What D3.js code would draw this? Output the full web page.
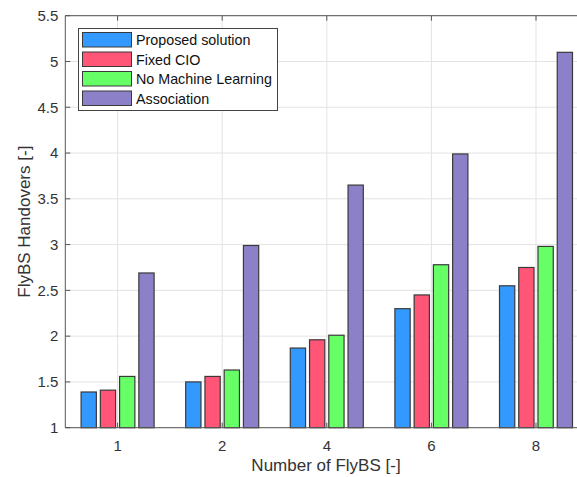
<!DOCTYPE html>
<html>
<head>
<meta charset="utf-8">
<script src="https://cdn.jsdelivr.net/npm/d3@7"></script>
<style>
  body { margin: 0; background: #fff; overflow: hidden; }
  svg { display: block; font-family: "Liberation Sans", Arial, sans-serif; }
</style>
</head>
<body>
<script>
// data
var categories = ["1", "2", "4", "6", "8"];
var seriesNames = ["Proposed solution", "Fixed CIO", "No Machine Learning", "Association"];
var proposed = [1.39, 1.50, 1.87, 2.30, 2.55];
var fixedCIO = [1.41, 1.56, 1.96, 2.45, 2.75];
var noML = [1.56, 1.63, 2.01, 2.78, 2.98];
var association = [2.69, 2.99, 3.65, 3.99, 5.10];
var yTicks = [1, 1.5, 2, 2.5, 3, 3.5, 4, 4.5, 5, 5.5];

var series = [proposed, fixedCIO, noML, association];
var colors = ["#3399ff", "#ff5577", "#66ff66", "#8c80c8"];

var width = 577, height = 477;
var plotLeft = 65.3, plotTop = 15.7, plotBottom = 427.7;
var unit = 104.6; // px per category step

var svg = d3.select("body").append("svg")
    .attr("width", width)
    .attr("height", height);

// x: categories at 1..5, limits 0.5..5.5 (axes run past the picture on the right)
var x = d3.scaleLinear()
    .domain([0.5, 5.5])
    .range([plotLeft, plotLeft + 5 * unit]);
var plotRight = x(5.5);

var y = d3.scaleLinear()
    .domain([1, 5.5])
    .range([plotBottom, plotTop]);

var grid = svg.append("g");
grid.selectAll("line.gy")
  .data(yTicks)
  .enter().append("line")
    .attr("x1", plotLeft).attr("x2", plotRight)
    .attr("y1", function(d) { return y(d); })
    .attr("y2", function(d) { return y(d); })
    .attr("stroke", "#e3e3e3")
    .attr("stroke-width", 1);
grid.selectAll("line.gx")
  .data(categories)
  .enter().append("line")
    .attr("x1", function(d, i) { return x(i + 1); })
    .attr("x2", function(d, i) { return x(i + 1); })
    .attr("y1", plotTop).attr("y2", plotBottom)
    .attr("stroke", "#e3e3e3")
    .attr("stroke-width", 1);

// bars
var barW = 0.146, step = 0.184;
series.forEach(function(vals, s) {
  svg.append("g").selectAll("rect")
    .data(vals)
    .enter().append("rect")
      .attr("x", function(d, i) { return x(i + 1 + (s - 1.5) * step - barW / 2); })
      .attr("width", barW * unit)
      .attr("y", function(d) { return y(d); })
      .attr("height", function(d) { return plotBottom - y(d); })
      .attr("fill", colors[s])
      .attr("stroke", "#3a3a3a")
      .attr("stroke-width", 1.2);
});

// axes box
var axisColor = "#555";
svg.append("line").attr("x1", plotLeft).attr("x2", plotLeft).attr("y1", plotTop).attr("y2", plotBottom)
  .attr("stroke", axisColor);
svg.append("line").attr("x1", plotLeft).attr("x2", plotRight).attr("y1", plotBottom).attr("y2", plotBottom)
  .attr("stroke", axisColor);
svg.append("line").attr("x1", plotLeft).attr("x2", plotRight).attr("y1", plotTop).attr("y2", plotTop)
  .attr("stroke", axisColor);

// y ticks and labels
var yAxis = svg.append("g");
yAxis.selectAll("line")
  .data(yTicks)
  .enter().append("line")
    .attr("x1", plotLeft).attr("x2", plotLeft + 5)
    .attr("y1", function(d) { return y(d); })
    .attr("y2", function(d) { return y(d); })
    .attr("stroke", axisColor);
yAxis.selectAll("text")
  .data(yTicks)
  .enter().append("text")
    .attr("x", plotLeft - 7)
    .attr("y", function(d) { return y(d); })
    .attr("dy", "0.35em")
    .attr("text-anchor", "end")
    .attr("font-size", 15)
    .attr("fill", "#333")
    .text(function(d) { return d; });

// x ticks and labels
var xAxis = svg.append("g");
xAxis.selectAll("line.b")
  .data(categories)
  .enter().append("line")
    .attr("x1", function(d, i) { return x(i + 1); })
    .attr("x2", function(d, i) { return x(i + 1); })
    .attr("y1", plotBottom).attr("y2", plotBottom - 5)
    .attr("stroke", axisColor);
xAxis.selectAll("line.t")
  .data(categories)
  .enter().append("line")
    .attr("x1", function(d, i) { return x(i + 1); })
    .attr("x2", function(d, i) { return x(i + 1); })
    .attr("y1", plotTop).attr("y2", plotTop + 5)
    .attr("stroke", axisColor);
xAxis.selectAll("text")
  .data(categories)
  .enter().append("text")
    .attr("x", function(d, i) { return x(i + 1); })
    .attr("y", plotBottom + 23)
    .attr("text-anchor", "middle")
    .attr("font-size", 15)
    .attr("fill", "#333")
    .text(function(d) { return d; });

// axis titles
svg.append("text")
  .attr("x", 326)
  .attr("y", 471)
  .attr("text-anchor", "middle")
  .attr("font-size", 17)
  .attr("fill", "#333")
  .text("Number of FlyBS [-]");

svg.append("text")
  .attr("transform", "translate(30," + ((plotTop + plotBottom) / 2) + ") rotate(-90)")
  .attr("text-anchor", "middle")
  .attr("font-size", 17)
  .attr("fill", "#333")
  .text("FlyBS Handovers [-]");

// legend
var lg = svg.append("g").attr("transform", "translate(78.5,28.5)");
lg.append("rect")
  .attr("width", 199).attr("height", 82)
  .attr("fill", "#fff")
  .attr("stroke", "#444")
  .attr("stroke-width", 1);
var item = lg.selectAll("g")
  .data(seriesNames)
  .enter().append("g")
    .attr("transform", function(d, i) { return "translate(4," + (4 + i * 19.5) + ")"; });
item.append("rect")
  .attr("width", 49).attr("height", 14.5)
  .attr("fill", function(d, i) { return colors[i]; })
  .attr("stroke", "#3a3a3a")
  .attr("stroke-width", 1);
item.append("text")
  .attr("x", 53.5)
  .attr("y", 7.5)
  .attr("dy", "0.35em")
  .attr("font-size", 14.3)
  .attr("fill", "#111")
  .text(function(d) { return d; });
</script>
</body>
</html>
